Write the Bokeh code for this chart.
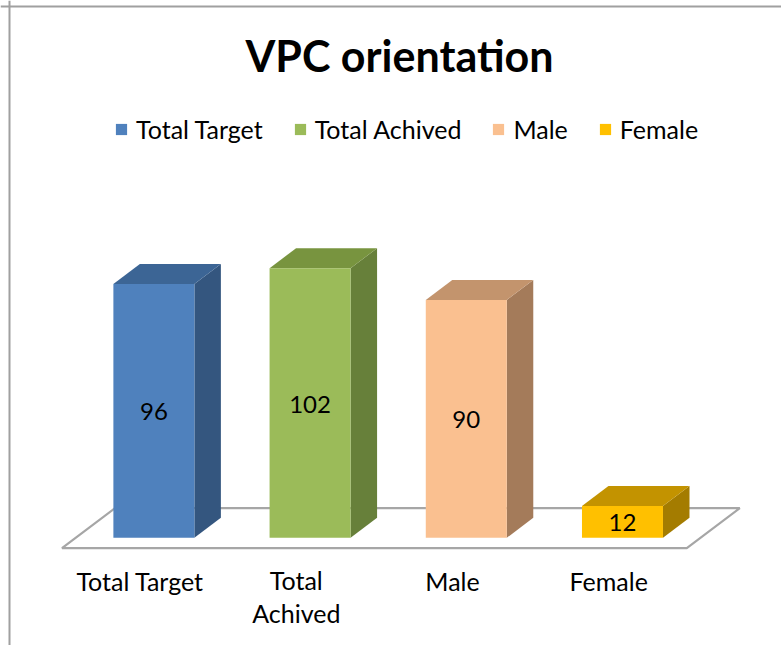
from bokeh.plotting import figure
from bokeh.models import Range1d, Legend, LegendItem, Label, Span
from bokeh.core.properties import value
from bokeh.embed import file_html
from bokeh.resources import INLINE

# ---- data ----
categories = ["Total Target", "Total Achived", "Male", "Female"]
tick_labels = ["Total Target", "Total\nAchived", "Male", "Female"]
values = [96, 102, 90, 12]
front_colors = ["#4F81BD", "#9BBB59", "#FAC090", "#FFC000"]
top_colors = ["#3C6595", "#78943F", "#C3946D", "#C39300"]
side_colors = ["#34567F", "#67803A", "#A47B5A", "#A47C00"]
title_text = "VPC orientation"

# ---- layout / style constants ----
W, H = 781, 645
PX_PER_CAT = 156.2      # pixels per category step
PX_PER_VAL = 2.643      # pixels per value unit
X0_PX = 139.6           # canvas x of first category (floor front)
Y0_PX = 547.7           # canvas y of value 0 at floor front
DX = 53 / PX_PER_CAT    # depth offset (category units) for full floor depth
DY = 40 / PX_PER_VAL    # depth offset (value units) for full floor depth
T0, T1 = 0.26, 0.76     # bar depth band
BW = 81 / PX_PER_CAT    # bar width
FONT = "Lato"
LINE_SPACING_PX = 31.4
LABEL_SIZE = 25

x_range = Range1d(-X0_PX / PX_PER_CAT, (W - X0_PX) / PX_PER_CAT)
y_range = Range1d(-(H - Y0_PX) / PX_PER_VAL, Y0_PX / PX_PER_VAL)

p = figure(width=W, height=H, x_range=x_range, y_range=y_range,
           output_backend="svg", toolbar_location=None,
           min_border=0, min_border_left=0, min_border_right=0,
           min_border_top=0, min_border_bottom=0)
p.axis.visible = False
p.grid.visible = False
p.outline_line_color = None
p.background_fill_color = "white"
p.border_fill_color = "white"


def proj(x, v, t):
    return x + t * DX, v + t * DY


def poly(pts):
    xs, ys = zip(*[proj(*pt) for pt in pts])
    return list(xs), list(ys)


# floor
n = len(categories)
fx, fy = poly([(-0.5, 0, 0), (n - 0.5, 0, 0), (n - 0.5, 0, 1), (-0.5, 0, 1)])
p.patch(fx, fy, fill_color="white", line_color="#A6A6A6", line_width=2.2)

front_xs, front_ys, side_xs, side_ys, top_xs, top_ys = [], [], [], [], [], []
for i, v in enumerate(values):
    xl, xr = i - BW / 2, i + BW / 2
    a, b = poly([(xr, 0, T0), (xr, 0, T1), (xr, v, T1), (xr, v, T0)])
    side_xs.append(a); side_ys.append(b)
    a, b = poly([(xl, v, T0), (xr, v, T0), (xr, v, T1), (xl, v, T1)])
    top_xs.append(a); top_ys.append(b)
    a, b = poly([(xl, 0, T0), (xr, 0, T0), (xr, v, T0), (xl, v, T0)])
    front_xs.append(a); front_ys.append(b)

p.patches(side_xs, side_ys, fill_color=side_colors, line_color=None)
p.patches(top_xs, top_ys, fill_color=top_colors, line_color=None)
front = p.patches(front_xs, front_ys, fill_color=front_colors, line_color=None)

# value labels at the centre of the front faces
lab_x = [proj(i, v / 2, T0)[0] for i, v in enumerate(values)]
lab_y = [proj(i, v / 2, T0)[1] - 1 / PX_PER_VAL for i, v in enumerate(values)]
p.text(x=lab_x, y=lab_y, text=[str(v) for v in values],
       text_font=value(FONT), text_font_size="24px", text_color="black",
       text_align="center", text_baseline="middle")

# category labels (block centred; first line centre at ~580 px)
cat_y = [-(580.0 + (t.count("\n")) * LINE_SPACING_PX / 2 - Y0_PX) / PX_PER_VAL
         for t in tick_labels]
p.text(x=list(range(n)), y=cat_y, text=tick_labels,
       text_font=value(FONT), text_font_size=f"{LABEL_SIZE}px", text_color="black",
       text_align="center", text_baseline="middle",
       text_line_height=1.095)

# title
p.add_layout(Label(x=(399 - X0_PX) / PX_PER_CAT, y=(Y0_PX - 55) / PX_PER_VAL,
                   text=title_text, text_font=FONT, text_font_style="bold",
                   text_font_size="43px", text_align="center",
                   text_baseline="middle", text_color="black"))

# legend
items = [LegendItem(label=c, renderers=[front], index=i) for i, c in enumerate(categories)]
legend = Legend(items=items, orientation="horizontal", location=(114, H - 143.5),
                glyph_width=14, glyph_height=14, label_standoff=8, spacing=30,
                padding=0, margin=0, border_line_color=None,
                background_fill_alpha=0, label_text_font=FONT,
                label_text_font_size=f"{LABEL_SIZE}px", label_text_color="black")
p.add_layout(legend, "center")

# chart border (top and left)
p.add_layout(Span(location=(Y0_PX - 6) / PX_PER_VAL, dimension="width",
                  line_color="#A0A0A0", line_width=2))
p.add_layout(Span(location=(9 - X0_PX) / PX_PER_CAT, dimension="height",
                  line_color="#A0A0A0", line_width=2))

open("out.html", "w").write(file_html(p, INLINE))
